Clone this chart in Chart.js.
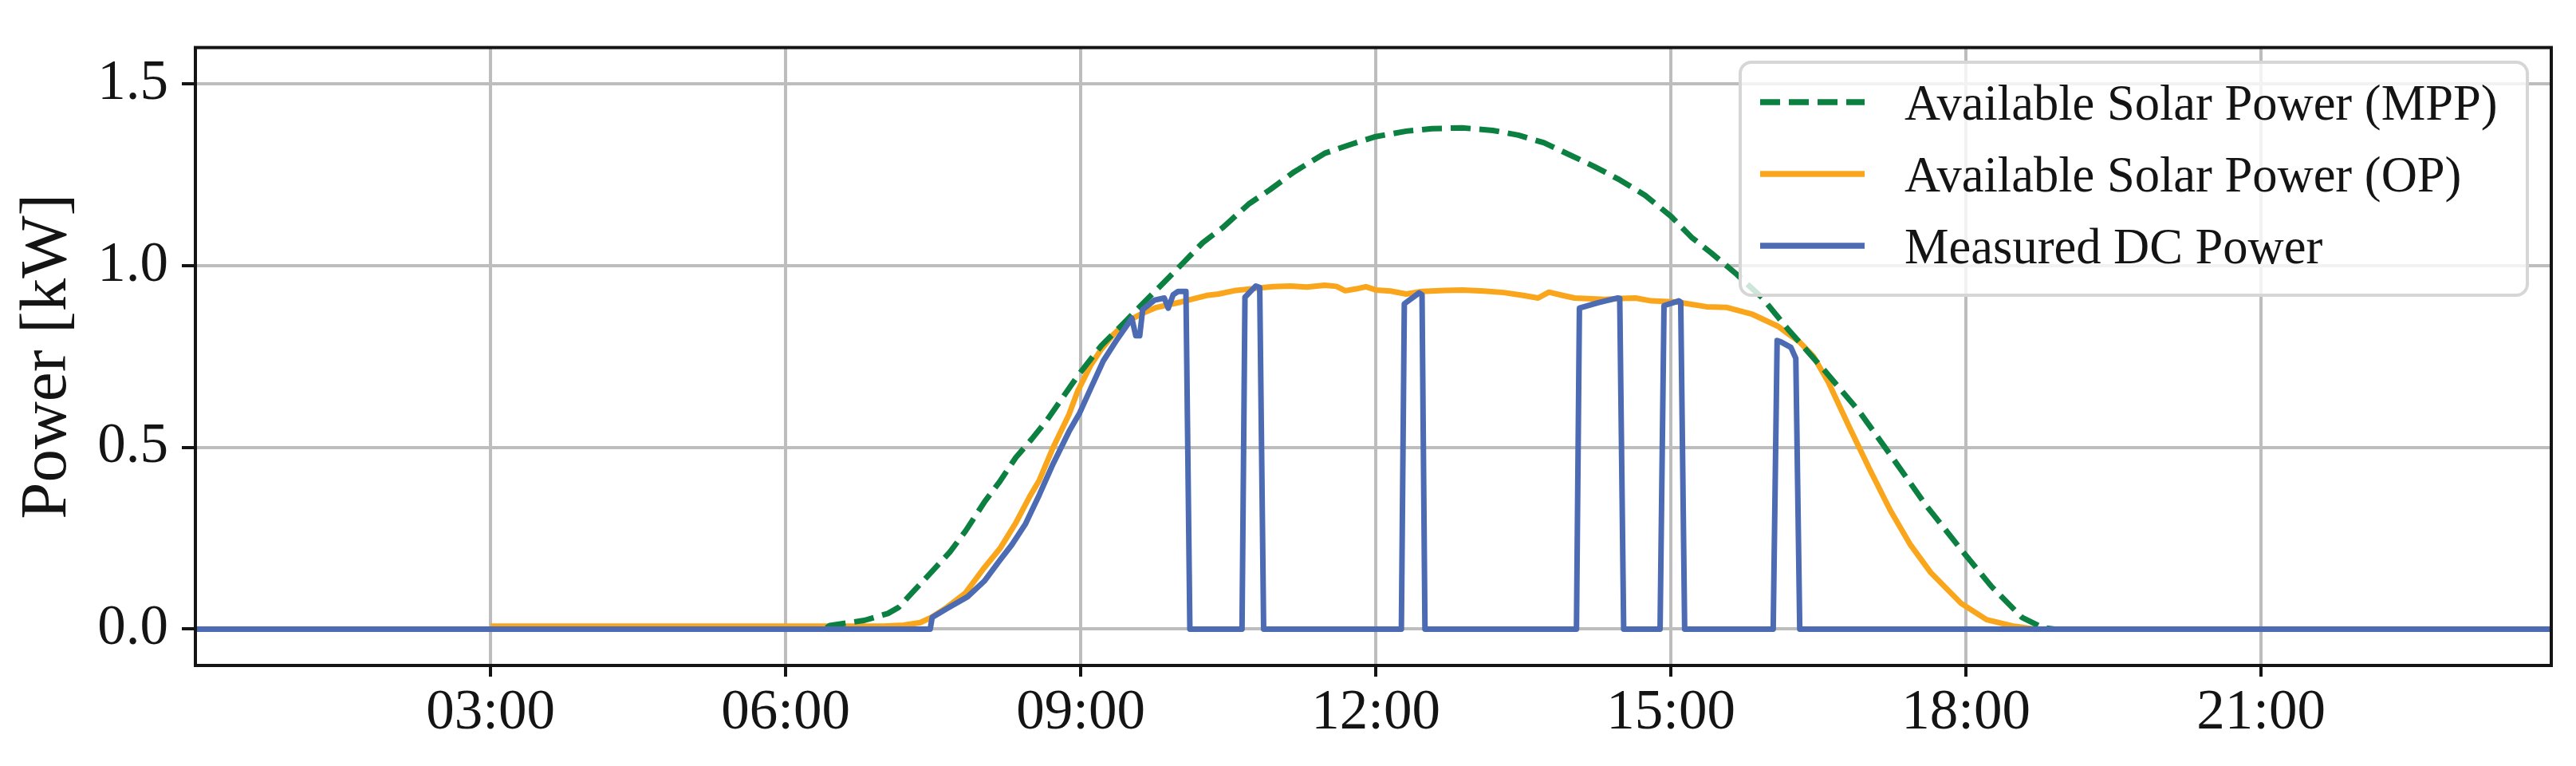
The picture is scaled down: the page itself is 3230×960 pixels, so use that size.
<!DOCTYPE html>
<html>
<head>
<meta charset="utf-8">
<script src="https://cdn.jsdelivr.net/npm/chart.js@4.4.1/dist/chart.umd.min.js"></script>
<style>
  html, body { margin: 0; padding: 0; background: #fff; }
  #chart { display: block; }
</style>
</head>
<body>
<canvas id="chart" width="3230" height="960"></canvas>
<script>
// time of day in hours, power in kW
const mppHours = [0, 6.40, 6.45, 6.80, 7.04, 7.15, 7.32, 7.50, 7.67, 7.83, 8.02, 8.18, 8.34, 8.50, 8.66, 8.97,
  9.21, 9.45, 9.64, 9.85, 10.05, 10.24, 10.45, 10.71, 10.92, 11.17, 11.48, 11.74, 12.0, 12.31, 12.57, 12.88,
  13.19, 13.45, 13.71, 13.97, 14.22, 14.48, 14.74, 15.0, 15.21, 15.41, 15.67, 15.93, 16.19, 16.56, 16.92,
  17.23, 17.59, 17.95, 18.26, 18.57, 18.78, 18.9, 23.95];
const mppPower = [0, 0, 0.01, 0.024, 0.043, 0.06, 0.11, 0.162, 0.212, 0.27, 0.349, 0.407, 0.472, 0.522, 0.576, 0.697,
  0.78, 0.845, 0.898, 0.955, 1.01, 1.063, 1.106, 1.17, 1.208, 1.258, 1.309, 1.333, 1.355, 1.37, 1.377, 1.379,
  1.372, 1.359, 1.338, 1.305, 1.273, 1.236, 1.193, 1.136, 1.078, 1.035, 0.976, 0.911, 0.825, 0.712, 0.597,
  0.48, 0.342, 0.219, 0.117, 0.032, 0.004, 0, 0];

const opHours = [3.0, 7.0, 7.2, 7.37, 7.48, 7.64, 7.83, 8.02, 8.18, 8.34, 8.48, 8.58, 8.72, 8.88, 8.97, 9.1,
  9.21, 9.33, 9.47, 9.62, 9.77, 10.02, 10.28, 10.40, 10.56, 10.76, 10.95, 11.13, 11.3, 11.48, 11.6, 11.69,
  11.80, 11.90, 12.00, 12.15, 12.31, 12.47, 12.7, 12.88, 13.1, 13.30, 13.5, 13.65, 13.76, 13.9, 14.02,
  14.33, 14.5, 14.64, 14.80, 15.06, 15.36, 15.57, 15.83, 16.09, 16.19, 16.30, 16.45, 16.60, 16.81, 17.02,
  17.23, 17.43, 17.64, 17.95, 18.21, 18.47, 18.7, 23.95];
const opPower = [0.008, 0.008, 0.011, 0.018, 0.032, 0.06, 0.10, 0.169, 0.222, 0.292, 0.364, 0.41, 0.50, 0.59, 0.655, 0.725,
  0.77, 0.81, 0.846, 0.868, 0.885, 0.90, 0.918, 0.922, 0.931, 0.937, 0.942, 0.944, 0.941, 0.946, 0.943, 0.931,
  0.936, 0.942, 0.933, 0.93, 0.922, 0.929, 0.932, 0.933, 0.93, 0.926, 0.918, 0.911, 0.927, 0.918, 0.911,
  0.907, 0.91, 0.911, 0.903, 0.90, 0.887, 0.885, 0.866, 0.833, 0.813, 0.792, 0.75, 0.68, 0.558, 0.44,
  0.327, 0.234, 0.156, 0.071, 0.026, 0.009, 0, 0];

const dcHours = [0, 7.47, 7.49, 7.65, 7.85, 8.02, 8.18, 8.30, 8.44, 8.58, 8.72, 8.88, 8.99, 9.11, 9.23, 9.37, 9.52,
  9.56, 9.60, 9.63, 9.75, 9.85, 9.89, 9.94, 9.99, 10.07, 10.11, 10.64, 10.67, 10.78, 10.82, 10.86,
  12.26, 12.29, 12.44, 12.47, 12.50, 14.04, 14.07, 14.26, 14.46, 14.48, 14.52, 14.89, 14.93, 15.08, 15.10, 15.14,
  16.04, 16.08, 16.12, 16.22, 16.27, 16.31, 23.95];
const dcPower = [0, 0, 0.032, 0.058, 0.089, 0.132, 0.19, 0.232, 0.29, 0.37, 0.455, 0.543, 0.595, 0.667, 0.738, 0.797, 0.855,
  0.807, 0.807, 0.879, 0.905, 0.911, 0.883, 0.92, 0.929, 0.929, 0, 0, 0.913, 0.944, 0.94, 0,
  0, 0.895, 0.925, 0.92, 0, 0, 0.883, 0.898, 0.911, 0.91, 0, 0, 0.89, 0.903, 0.90, 0,
  0, 0.794, 0.79, 0.775, 0.745, 0, 0];

const seriesLabels = ['Available Solar Power (MPP)', 'Available Solar Power (OP)', 'Measured DC Power'];
const xTickHours = [3, 6, 9, 12, 15, 18, 21];
const yTickValues = [0, 0.5, 1.0, 1.5];

const FONT = '"Liberation Serif", "Times New Roman", serif';
const INK = '#141414';

const toPoints = (hours, values) => hours.map((h, i) => ({ x: h, y: values[i] }));
const hourLabel = h => String(h).padStart(2, '0') + ':00';

// frame round the plot and a matplotlib-like legend inside it
const frameAndLegend = {
  id: 'frameAndLegend',
  afterDatasetsDraw(chart) {
    const ctx = chart.ctx;
    const a = chart.chartArea;
    ctx.save();
    ctx.strokeStyle = INK;
    ctx.lineWidth = 4;
    ctx.strokeRect(a.left, a.top, a.right - a.left, a.bottom - a.top);

    // legend box
    const bx = 2182, by = 78, bw = 987, bh = 292, r = 14;
    ctx.beginPath();
    ctx.moveTo(bx + r, by);
    ctx.lineTo(bx + bw - r, by);
    ctx.arcTo(bx + bw, by, bx + bw, by + r, r);
    ctx.lineTo(bx + bw, by + bh - r);
    ctx.arcTo(bx + bw, by + bh, bx + bw - r, by + bh, r);
    ctx.lineTo(bx + r, by + bh);
    ctx.arcTo(bx, by + bh, bx, by + bh - r, r);
    ctx.lineTo(bx, by + r);
    ctx.arcTo(bx, by, bx + r, by, r);
    ctx.closePath();
    ctx.fillStyle = 'rgba(255,255,255,0.8)';
    ctx.fill();
    ctx.strokeStyle = '#d6d6d6';
    ctx.lineWidth = 4;
    ctx.stroke();

    ctx.font = '62.5px ' + FONT;
    ctx.textBaseline = 'alphabetic';
    ctx.textAlign = 'left';
    seriesLabels.forEach((label, i) => {
      const ds = chart.data.datasets.find(d => d.label === label);
      const y = 128 + i * 90;
      ctx.beginPath();
      ctx.strokeStyle = ds.borderColor;
      ctx.lineWidth = ds.borderWidth + 0.5;
      ctx.setLineDash(ds.borderDash || []);
      ctx.lineCap = 'butt';
      ctx.moveTo(2207, y);
      ctx.lineTo(2338, y);
      ctx.stroke();
      ctx.setLineDash([]);
      ctx.fillStyle = INK;
      ctx.fillText(label, 2388, y + 22);
    });
    ctx.restore();
  }
};

const ctx = document.getElementById('chart').getContext('2d');
new Chart(ctx, {
  type: 'line',
  data: {
    datasets: [
      {
        label: seriesLabels[0],
        data: toPoints(mppHours, mppPower),
        borderColor: '#0c8040',
        borderWidth: 7,
        borderDash: [25, 11],
        order: 1
      },
      {
        label: seriesLabels[1],
        data: toPoints(opHours, opPower),
        borderColor: '#f9a61c',
        borderWidth: 7,
        order: 2
      },
      {
        label: seriesLabels[2],
        data: toPoints(dcHours, dcPower),
        borderColor: '#4c6bb3',
        borderWidth: 7,
        order: 0
      }
    ]
  },
  options: {
    responsive: false,
    animation: false,
    devicePixelRatio: 1,
    elements: {
      point: { radius: 0 },
      line: { tension: 0, fill: false, borderJoinStyle: 'round', borderCapStyle: 'butt' }
    },
    layout: { padding: { top: 49, right: 31, bottom: 0, left: 0 } },
    plugins: {
      legend: { display: false },
      tooltip: { enabled: false }
    },
    scales: {
      x: {
        type: 'linear',
        min: 0,
        max: 23.95,
        afterBuildTicks: s => { s.ticks = xTickHours.map(v => ({ value: v })); },
        afterFit: s => { s.height = 126; },
        ticks: {
          callback: v => hourLabel(v),
          font: { family: FONT, size: 71 },
          color: INK,
          padding: 4,
          maxRotation: 0,
          autoSkip: false
        },
        grid: { color: '#bdbdbd', lineWidth: 4, tickLength: 14, tickColor: INK, tickWidth: 4 },
        border: { display: false }
      },
      y: {
        min: -0.1,
        max: 1.6,
        afterBuildTicks: s => { s.ticks = yTickValues.map(v => ({ value: v })); },
        afterFit: s => { s.width = 245; },
        ticks: {
          callback: v => v.toFixed(1),
          font: { family: FONT, size: 71 },
          color: INK,
          padding: 17
        },
        grid: { color: '#bdbdbd', lineWidth: 4, tickLength: 17, tickColor: INK, tickWidth: 4 },
        border: { display: false },
        title: {
          display: true,
          text: 'Power [kW]',
          font: { family: FONT, size: 83 },
          color: INK,
          padding: { top: 10, bottom: 0 }
        }
      }
    }
  },
  plugins: [frameAndLegend]
});
</script>
</body>
</html>
